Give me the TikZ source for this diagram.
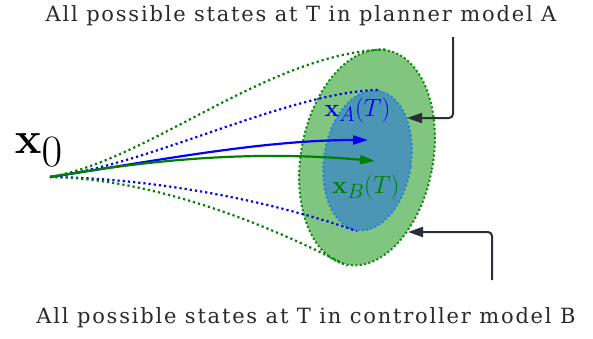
\documentclass[tikz,border=0pt]{standalone}
\usepackage{amsmath,amssymb}
\usepackage[no-math]{fontspec}
\setmainfont{DejaVu Serif}[LetterSpace=8.5]
\usepackage{tikz}
\usetikzlibrary{arrows.meta,positioning,shapes.geometric,calc}
\definecolor{cOuter}{HTML}{80C680}
\definecolor{cInner}{HTML}{4A96B4}
\definecolor{cOuterDot}{HTML}{0A8A0A}
\definecolor{cInnerDot}{HTML}{2A80E0}
\definecolor{cBlue}{HTML}{0000FF}
\definecolor{cGreen}{HTML}{008000}
\definecolor{cCall}{HTML}{2B2F35}
\definecolor{cText}{HTML}{2A2A2A}
\tikzset{
  caption/.style={inner sep=0pt, font=\fontsize{21}{25}\selectfont, text=cText},
  setlbl/.style ={inner sep=0pt, font=\Huge},
  reach/.style  ={ellipse, inner sep=0pt, line width=2pt, dash pattern=on 2pt off 2.4pt},
  bound/.style  ={line width=2.2pt, dash pattern=on 2.2pt off 3pt},
  traj/.style   ={-{Triangle[length=15pt,width=9pt]}, line width=2.2pt},
  callout/.style={-{Triangle[length=15pt,width=10pt]}, line width=2pt, draw=cCall, rounded corners=4pt},
}
\begin{document}
\begin{tikzpicture}[x=1pt,y=-1pt]
    \useasboundingbox (0,0) rectangle (593,338);
    % reachable sets at T
    \node[reach, fill=cOuter, draw=cOuterDot, minimum width=132pt, minimum height=218pt, rotate=-10.5] (outer) at (367,157.5) {};
    \node[reach, fill=cInner, draw=cInnerDot, minimum width=87pt, minimum height=141pt, rotate=-8.6] (inner) at (367.5,160.5) {};
    \coordinate (x0) at (50,177);
    \node[setlbl, scale=1.8] (x0lbl) at (39,150) {$\mathbf{x}_{\textstyle 0}$};
    \coordinate (tipA) at (368,140);
    \coordinate (tipB) at (375,161);
    % bounds of the sets
    \draw[bound, draw=cGreen] (x0) .. controls (150,160) and (270,52) .. (outer.north);
    \draw[bound, draw=cBlue]  (x0) .. controls (150,165) and (285,93) .. (inner.north);
    \draw[bound, draw=cBlue]  (x0) .. controls (150,178) and (270,200) .. (inner.south);
    \draw[bound, draw=cGreen] (x0) .. controls (140,178) and (250,215) .. (outer.south);
    % nominal trajectories
    \draw[traj, draw=cBlue]  (x0) .. controls (150,162) and (260,140) .. (tipA);
    \draw[traj, draw=cGreen] (x0) .. controls (150,160) and (250,150) .. (tipB);
    \node[setlbl, text=cBlue]  (xA) at (357.5,110) {$\mathbf{x}_A(T)$};
    \node[setlbl, text=cGreen] (xB) at (366,187) {$\mathbf{x}_B(T)$};
    % captions
    \node[caption] (capA) at (301,16) {All possible states at T in planner model A};
    \node[caption] (capB) at (306,318) {All possible states at T in controller model B};
    \coordinate (startA) at (453,37);
    \coordinate (endA) at (407,118);
    \coordinate (startB) at (492,280);
    \coordinate (endB) at (408,232);
    \draw[callout] (startA) |- (endA);
    \draw[callout] (startB) |- (endB);
  \end{tikzpicture}
\end{document}
